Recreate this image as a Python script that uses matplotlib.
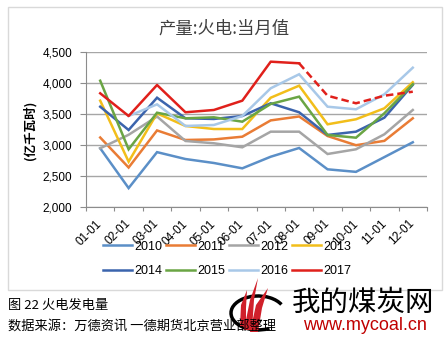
import numpy as np
import matplotlib
matplotlib.use("Agg")
import matplotlib.pyplot as plt
from matplotlib.patches import Rectangle, Arc, Polygon
from matplotlib.lines import Line2D

plt.rcParams['font.family'] = ['Liberation Sans', 'Noto Sans CJK SC', 'DejaVu Sans']

# ── data (亿千瓦时) ─────────────────────────────────────────────────────────
months = ["01-01", "02-01", "03-01", "04-01", "05-01", "06-01",
          "07-01", "08-01", "09-01", "10-01", "11-01", "12-01"]
years = ["2010", "2011", "2012", "2013", "2014", "2015", "2016", "2017"]
colors = ["#5B8FC7", "#E97C35", "#A5A5A5", "#F2BE1A",
          "#3B64AD", "#6AA544", "#A8C8E8", "#E0201B"]

v2010 = [2942, 2300, 2880, 2769, 2705, 2619, 2806, 2947, 2603, 2562, 2800, 3039]
v2011 = [3116, 2632, 3230, 3076, 3085, 3129, 3392, 3455, 3140, 2992, 3062, 3426]
v2012 = [2942, 3160, 3455, 3060, 3023, 2958, 3210, 3210, 2850, 2926, 3168, 3560]
v2013 = [3710, 2726, 3505, 3302, 3253, 3253, 3758, 3952, 3329, 3410, 3587, 4007]
v2014 = [3613, 3237, 3758, 3426, 3415, 3463, 3668, 3523, 3157, 3210, 3436, 3965]
v2015 = [4032, 2926, 3516, 3426, 3442, 3371, 3657, 3775, 3157, 3113, 3507, 3974]
v2016 = [np.nan, 3463, 3651, 3302, 3318, 3463, 3910, 4136, 3613, 3571, 3813, 4242]
v2017 = [3829, 3463, 3963, 3523, 3560, 3710, 4339, 4313, 3790, 3668, 3790, 3855]
series = [v2010, v2011, v2012, v2013, v2014, v2015, v2016, v2017]
actual_upto = 8   # 2017: months after Aug are dashed (estimate)

W, H = 445, 346
fig = plt.figure(figsize=(W / 100, H / 100), dpi=100)

# outer chart frame
fig.add_artist(Rectangle((8 / W, 1 - 290 / H), 434 / W, 283 / H,
                         transform=fig.transFigure, fill=False,
                         ec="#D9D9D9", lw=1.0))

ax = fig.add_axes([86 / W, 1 - 206.7 / H, 341 / W, 155 / H])
x = np.arange(len(months))
for yr, vals, c in zip(years[:-1], series[:-1], colors[:-1]):
    ax.plot(x, vals, color=c, lw=1.8, solid_joinstyle="miter")
ax.plot(x[:actual_upto], v2017[:actual_upto], color=colors[-1], lw=1.8)
ax.plot(x[actual_upto - 1:], v2017[actual_upto - 1:], color=colors[-1],
        lw=1.8, ls=(0, (3, 1.6)))

ax.set_xlim(-0.5, 11.5)
ax.set_ylim(2000, 4500)
ax.set_yticks(np.arange(2000, 4501, 500))
ax.set_yticklabels([f"{v:,}" for v in range(2000, 4501, 500)], fontsize=8.5)
ax.set_xticks(np.arange(-0.5, 12, 1))
ax.set_xticklabels([])
ax.set_xticks(x, minor=True)
ax.set_xticklabels(months, minor=True, rotation=45, ha="right", va="center",
                   rotation_mode="anchor", fontsize=8.5)
ax.tick_params(axis="x", which="major", length=3, color="#8C8C8C", direction="out")
ax.tick_params(axis="x", which="minor", length=0, pad=11)
ax.tick_params(axis="y", length=4, color="#8C8C8C", pad=6)
ax.grid(axis="y", color="#A6A6A6", lw=1.0)
ax.set_axisbelow(True)
for s in ["top", "right"]:
    ax.spines[s].set_visible(False)
for s in ["left", "bottom"]:
    ax.spines[s].set_color("#8C8C8C")
    ax.spines[s].set_linewidth(0.8)

fig.text(30 / W, 1 - 130 / H, "(亿千瓦时)", rotation=90, ha="center", va="center",
         fontsize=9, fontweight="bold", family=["Noto Sans CJK SC"])
fig.text(224 / W, 1 - 29 / H, "产量:火电:当月值", ha="center", va="center",
         fontsize=12.5, color="#404040", family=["Noto Sans CJK SC"])

# legend is filled column by column, so interleave to get rows of 4
handles = [Line2D([], [], color=c, lw=1.8) for c in colors]
order = [0, 4, 1, 5, 2, 6, 3, 7]
fig.legend([handles[i] for i in order], [years[i] for i in order],
           loc="center", bbox_to_anchor=(227 / W, 1 - 259 / H),
           ncol=4, frameon=False, fontsize=9, handlelength=2.3,
           handletextpad=0.2, columnspacing=0.3, labelspacing=1.0)

# caption under the chart
fig.text(8 / W, 1 - 306 / H, "图 22 火电发电量", ha="left", va="center",
         fontsize=9.5, family=["Noto Sans CJK SC"])
fig.text(8 / W, 1 - 327 / H, "数据来源：万德资讯 一德期货北京营业部整理", ha="left",
         va="center", fontsize=9.5, family=["Noto Sans CJK SC"])

# watermark (rough logo + text)
fig.add_artist(Arc((258 / W, 1 - 313 / H), 54 / W, 34 / H, theta1=25, theta2=300,
                   transform=fig.transFigure, color="black", lw=2.5))
for pts in ([(244, 330), (250, 300), (258, 278), (254, 300), (252, 330)],
            [(250, 332), (256, 305), (268, 288), (262, 308), (258, 332)],
            [(240, 326), (241, 305), (247, 290), (246, 308), (246, 328)]):
    fig.add_artist(Polygon([(px / W, 1 - py / H) for px, py in pts], closed=True,
                           transform=fig.transFigure, fc="#D0202A", ec="none"))
fig.text(363 / W, 1 - 303 / H, "我的煤炭网", ha="center", va="center",
         fontsize=20.5, family=["Noto Sans CJK SC"])
fig.text(365 / W, 1 - 326 / H, "www.mycoal.cn", ha="center", va="center",
         fontsize=13, color="#C00000")

fig.savefig("out.png", dpi=100)
